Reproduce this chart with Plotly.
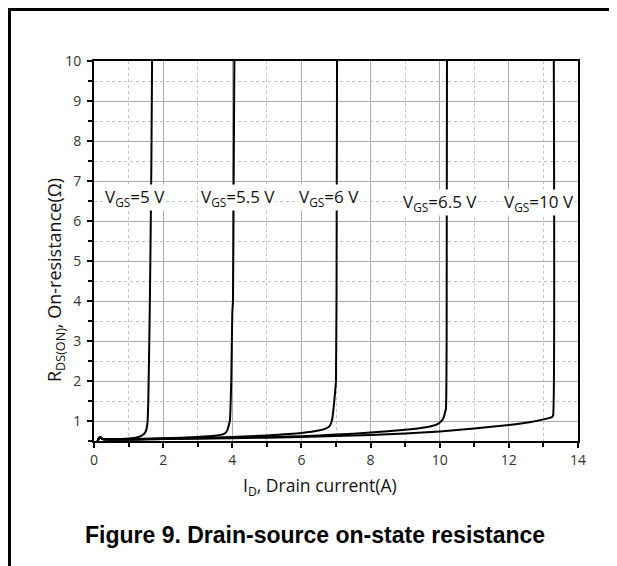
import plotly.graph_objects as go

# Curves: I_D (A) vs R_DS(ON) (ohm)
vgs5_x = [0.1, 0.17, 0.25, 0.5, 0.8, 1.0, 1.2, 1.35, 1.45, 1.5, 1.53, 1.55, 1.57, 1.59, 1.61, 1.63, 1.66, 1.68]
vgs5_y = [0.5, 0.6, 0.55, 0.54, 0.55, 0.56, 0.58, 0.62, 0.68, 0.75, 0.85, 1.0, 1.5, 2.5, 3.6, 5.0, 7.5, 10]

vgs55_x = [0.1, 0.17, 0.25, 1.0, 2.0, 3.0, 3.5, 3.7, 3.8, 3.86, 3.9, 3.93, 3.97, 4.0, 4.02, 4.04, 4.06]
vgs55_y = [0.5, 0.6, 0.55, 0.55, 0.57, 0.6, 0.63, 0.66, 0.7, 0.78, 0.9, 1.0, 2.0, 3.7, 4.0, 7.0, 10]

vgs6_x = [0.1, 0.17, 0.25, 1, 2, 3, 4, 5, 6, 6.5, 6.7, 6.8, 6.86, 6.9, 6.95, 7.0, 7.02, 7.03]
vgs6_y = [0.5, 0.6, 0.55, 0.54, 0.56, 0.58, 0.6, 0.64, 0.7, 0.76, 0.81, 0.86, 0.95, 1.1, 1.5, 2.0, 6, 10]

vgs65_x = [0.1, 0.17, 0.25, 1, 2, 4, 6, 7, 8, 9, 9.5, 9.8, 9.95, 10.05, 10.12, 10.15, 10.18, 10.2, 10.21]
vgs65_y = [0.5, 0.6, 0.55, 0.54, 0.55, 0.58, 0.62, 0.66, 0.71, 0.78, 0.83, 0.88, 0.93, 1.0, 1.1, 1.2, 1.3, 3, 10]

vgs10_x = [0.1, 0.17, 0.25, 1, 2, 4, 6, 8, 9, 10, 11, 12, 12.6, 13.0, 13.25, 13.28, 13.3]
vgs10_y = [0.5, 0.6, 0.55, 0.53, 0.55, 0.57, 0.6, 0.65, 0.69, 0.74, 0.81, 0.9, 0.97, 1.04, 1.1, 1.14, 10]

label_text = ["V<sub>GS</sub>=5 V", "V<sub>GS</sub>=5.5 V", "V<sub>GS</sub>=6 V",
              "V<sub>GS</sub>=6.5 V", "V<sub>GS</sub>=10 V"]
label_x = [1.18, 4.17, 6.8, 10.02, 12.86]
label_y = [6.6, 6.6, 6.6, 6.47, 6.47]

x_ticks = [0, 2, 4, 6, 8, 10, 12, 14]
y_ticks = [1, 2, 3, 4, 5, 6, 7, 8, 9, 10]

fig = go.Figure()
for xs, ys in [(vgs5_x, vgs5_y), (vgs55_x, vgs55_y), (vgs6_x, vgs6_y),
               (vgs65_x, vgs65_y), (vgs10_x, vgs10_y)]:
    fig.add_trace(go.Scatter(x=xs, y=ys, mode="lines",
                             line=dict(color="black", width=2, shape="spline", smoothing=0.4),
                             showlegend=False, hoverinfo="skip"))

font_main = "Open Sans, Noto Sans, sans-serif"

axis_common = dict(
    showline=True, linecolor="black", linewidth=2, mirror=True,
    ticks="outside", ticklen=5, tickwidth=1.5, tickcolor="black",
    showgrid=True, gridcolor="#aaaaaa", gridwidth=1,
    zeroline=False,
    tickfont=dict(family=font_main, size=14, color="#333"),
)

fig.update_xaxes(range=[0, 14], tickvals=x_ticks,
                 minor=dict(dtick=1, tick0=0, ticks="outside", ticklen=4, tickcolor="black",
                            showgrid=True, gridcolor="#c4c4c4", griddash="dot", gridwidth=1),
                 **axis_common)
fig.update_yaxes(range=[0.5, 10], tickvals=y_ticks,
                 minor=dict(dtick=0.5, tick0=0.5, ticks="outside", ticklen=4, tickcolor="black",
                            showgrid=True, gridcolor="#c4c4c4", griddash="dot", gridwidth=1),
                 ticklabelstandoff=3,
                 **axis_common)

annotations = []
for t, x, y in zip(label_text, label_x, label_y):
    annotations.append(dict(x=x, y=y, xref="x", yref="y", text=t, showarrow=False,
                            bgcolor="white", font=dict(family=font_main, size=17, color="#111"),
                            xanchor="center", yanchor="middle", borderpad=0))

annotations.append(dict(x=0.467, y=-0.121, xref="paper", yref="paper",
                        text="I<sub>D</sub>, Drain current(A)", showarrow=False,
                        font=dict(family=font_main, size=17.5, color="#111"),
                        xanchor="center", yanchor="middle"))
annotations.append(dict(x=-0.0785, y=0.4237, xref="paper", yref="paper",
                        text="R<sub>DS(ON)</sub>, On-resistance(Ω)", showarrow=False,
                        textangle=-90,
                        font=dict(family=font_main, size=18, color="#111"),
                        xanchor="center", yanchor="middle"))
annotations.append(dict(x=0.457, y=-0.247, xref="paper", yref="paper",
                        text="<b>Figure 9. Drain-source on-state resistance</b>", showarrow=False,
                        font=dict(family="Liberation Sans, Arial, sans-serif", size=23, color="black"),
                        xanchor="center", yanchor="middle"))

fig.update_layout(
    width=609, height=558,
    margin=dict(l=86, r=39, t=53, b=125),
    paper_bgcolor="white", plot_bgcolor="white",
    annotations=annotations,
    shapes=[dict(type="rect", xref="paper", yref="paper",
                 x0=-0.1746, x1=1.068, y0=-0.36, y1=1.1355,
                 line=dict(color="black", width=3), fillcolor="rgba(0,0,0,0)")],
)

fig.write_html("out.html")
